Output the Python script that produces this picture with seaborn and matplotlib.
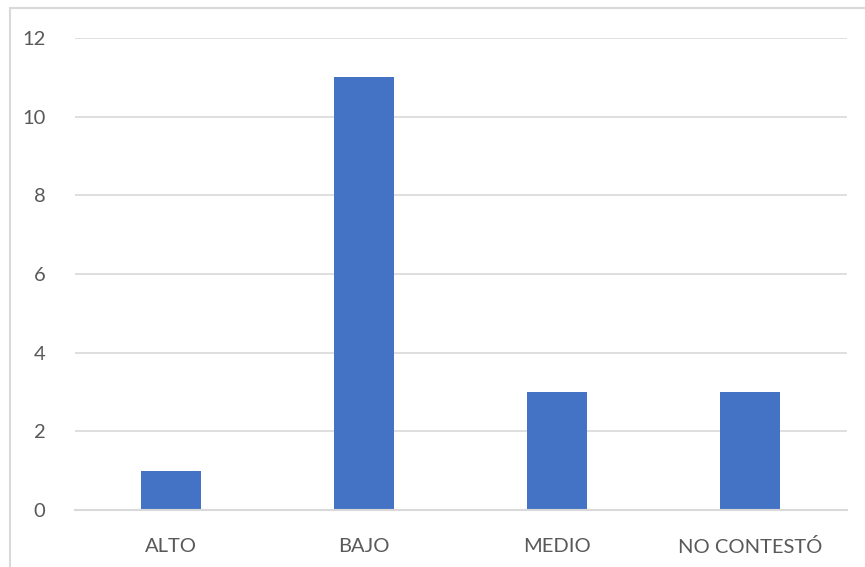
import matplotlib
matplotlib.use("Agg")
import matplotlib.pyplot as plt
from matplotlib.patches import Rectangle
import seaborn as sns
import pandas as pd

categories = ["ALTO", "BAJO", "MEDIO", "NO CONTESTÓ"]
counts = [1, 11, 3, 3]
y_ticks = [0, 2, 4, 6, 8, 10, 12]

sns.set_theme(style="white")
plt.rcParams["font.family"] = ["Lato", "DejaVu Sans"]

W, H = 865, 567
fig = plt.figure(figsize=(W / 100, H / 100), dpi=100)
ax = fig.add_axes([74.5 / W, 57 / H, 772 / W, 472 / H])

df = pd.DataFrame({"cat": categories, "n": counts})
sns.barplot(data=df, x="cat", y="n", color="#4472C4", width=0.31,
            saturation=1, linewidth=0, ax=ax)

ax.set_ylim(0, 12)
ax.set_yticks(y_ticks)
ax.set_xlim(-0.5, len(categories) - 0.5)
ax.yaxis.grid(True, color="#d9d9d9", linewidth=1.2)
ax.set_axisbelow(True)
for side in ["top", "right", "left"]:
    ax.spines[side].set_visible(False)
ax.spines["bottom"].set_color("#d9d9d9")
ax.spines["bottom"].set_linewidth(1.5)
ax.set_xlabel("")
ax.set_ylabel("")
ax.tick_params(axis="both", length=0, labelsize=14.5, labelcolor="#595959")
ax.tick_params(axis="y", pad=21)
ax.tick_params(axis="x", pad=20)

# chart frame
fig.patches.append(Rectangle((10 / W, -0.1), 1.2, 1.1 - 8 / H,
                             transform=fig.transFigure, fill=False,
                             edgecolor="#d9d9d9", linewidth=1.5))

fig.savefig("out.png", dpi=100)
